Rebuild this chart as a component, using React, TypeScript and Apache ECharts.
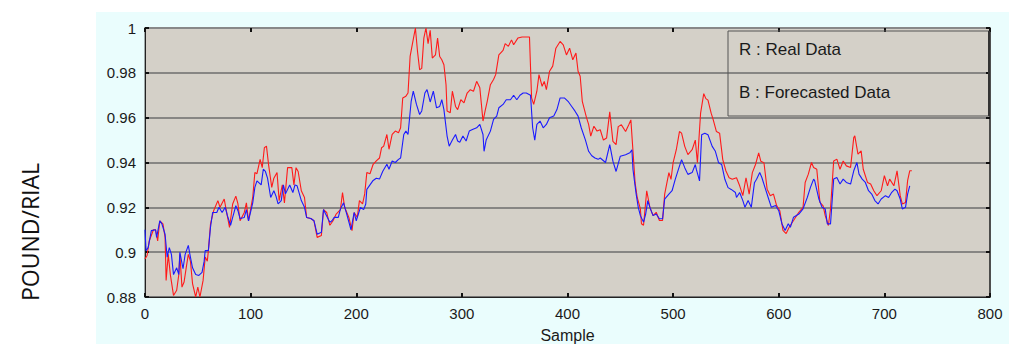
import React, { useEffect, useRef } from "react";
import * as echarts from "echarts";

const xTicks = [0, 100, 200, 300, 400, 500, 600, 700, 800];
const yTicks = [0.88, 0.9, 0.92, 0.94, 0.96, 0.98, 1];

const realX = [0,2,4,8,10,12,14,17,19,20,22,24,27,30,32,33,35,37,39,41,43,45,48,50,52,55,57,59,60,62,65,69,71,75,77,80,83,86,88,90,94,96,98,102,104,106,109,111,113,115,117,120,122,125,127,130,132,135,139,141,143,145,148,151,153,157,160,163,167,169,172,175,178,181,
185,187,189,193,196,198,201,203,206,208,210,213,216,219,222,224,226,229,231,234,237,240,242,244,247,249,251,253,256,258,260,262,264,266,268,270,272,275,277,279,281,283,285,286,289,291,294,296,299,302,305,308,311,314,317,320,322,324,327,330,332,335,339,341,344,347,349,353,357,360,364,366,368,371,373,376,378,380,383,386,389,393,396,399,402,405,408,410,412,414,418,420,422,425,428,
431,434,437,440,443,446,448,451,455,458,460,462,464,466,469,470,472,475,478,481,484,487,490,492,496,498,500,503,506,508,511,514,518,521,523,526,529,531,533,536,538,541,544,547,550,553,556,560,563,566,569,572,575,578,581,583,586,589,592,595,598,601,604,607,610,
614,619,623,625,628,631,633,636,639,642,644,647,649,652,655,658,661,664,668,671,672,675,678,680,684,687,690,693,697,700,703,705,709,712,715,717,720,722,724,726];
const realY = [0.897,0.8985,0.905,0.91,0.91,0.905,0.914,0.9126,0.9066,0.8874,0.899,0.89,0.8807,0.883,0.89,0.899,0.8844,0.8867,0.893,0.899,0.896,0.886,0.88,0.8844,0.88,0.8874,0.8978,0.896,0.9007,0.9126,0.9185,0.923,0.92,0.9237,0.9185,0.911,0.9215,0.925,0.9215,0.914,0.9177,0.922,0.914,0.9244,0.9355,0.935,0.9414,0.9377,0.9466,0.9473,0.939,0.9289,0.933,0.9355,0.923,0.93,0.922,0.9377,0.9377,0.93,0.9377,0.936,0.9274,0.9244,0.9155,0.915,0.914,0.9066,0.9074,0.919,0.9177,0.912,0.914,0.917,
0.919,0.9266,0.92,0.9155,0.9096,0.9177,0.9155,0.923,0.9215,0.926,0.9355,0.935,0.9392,0.9407,0.942,0.9466,0.9473,0.9525,0.9459,0.9525,0.954,0.9533,0.9555,0.9688,0.9696,0.971,0.9873,0.9925,1.0,0.9895,0.9814,0.982,0.9955,1.0,0.993,0.999,0.9866,0.988,0.9955,0.9873,0.9858,0.9836,0.9747,0.963,0.9622,0.9718,0.965,0.9636,0.968,0.9666,0.971,0.9725,0.9718,0.9762,0.9733,0.9585,0.963,0.9673,0.9747,0.977,0.9792,0.988,0.99,0.993,0.9918,0.9947,0.9925,0.9955,0.996,0.996,0.996,0.9688,0.9659,0.9718,0.9792,0.974,0.9762,0.9725,0.9807,0.983,0.991,0.994,0.9925,0.988,0.991,0.9858,0.9888,0.9807,0.9785,0.9673,0.96,0.957,0.9518,0.9562,0.954,
0.9546,0.95,0.9509,0.9626,0.9494,0.948,0.956,0.9568,0.9538,0.9568,0.959,0.945,0.931,0.9244,0.9193,0.9127,0.912,0.9274,0.92,0.9163,0.9178,0.9141,0.9141,0.9259,0.9355,0.9325,0.9399,0.9457,0.9538,0.9531,0.9472,0.9435,0.9457,0.95,0.9399,0.962,0.9707,0.9685,0.9678,0.962,0.959,0.9538,0.9531,0.9413,0.9362,0.9332,0.9325,0.9332,0.9296,0.9252,0.9332,0.9259,0.9355,0.9391,0.9443,0.9406,0.9399,0.9281,0.9252,0.9259,0.9208,0.9185,0.9097,0.9083,0.9112,
0.9141,0.9178,0.92,0.9311,0.9348,0.94,0.9378,0.937,0.9222,0.9207,0.9163,0.9119,0.9193,0.9407,0.9415,0.937,0.9407,0.9385,0.9378,0.9511,0.9519,0.9437,0.9452,0.937,0.9311,0.9304,0.9274,0.9252,0.9274,0.9341,0.9296,0.9326,0.9296,0.9363,0.9252,0.9215,0.9222,0.9319,0.9363,0.9363];

const forecastX = [0,1,3,6,10,11,14,16,19,21,23,25,27,30,32,33,36,38,41,43,45,48,51,54,56,57,60,62,64,68,70,73,76,78,81,83,86,88,90,94,96,98,102,104,106,110,112,114,116,119,122,124,126,129,131,133,137,140,142,144,148,151,153,157,160,163,167,169,171,175,177,179,183,
185,188,191,195,198,200,204,207,209,210,213,216,219,222,225,229,231,234,237,240,242,245,247,249,252,254,257,260,262,265,267,270,273,276,279,281,283,286,288,291,294,296,298,301,304,307,310,314,317,320,321,323,327,330,333,335,339,342,346,349,352,355,358,361,365,367,369,371,374,377,380,383,387,390,393,397,401,404,407,410,413,417,420,423,426,429,
431,436,440,443,446,450,455,459,461,462,465,467,469,472,474,476,478,481,484,487,490,492,496,499,502,505,508,511,514,518,521,522,525,527,530,533,537,540,543,546,549,552,555,559,560,563,566,568,571,574,577,579,582,584,587,590,593,597,600,603,606,609,
611,614,619,623,627,630,633,634,638,641,644,646,649,652,655,658,661,664,668,671,674,676,679,682,685,688,691,694,697,701,704,707,710,712,715,717,720,722,724];
const forecastY = [0.91,0.9007,0.902,0.9096,0.91,0.9066,0.914,0.9126,0.908,0.8978,0.902,0.899,0.89,0.893,0.89,0.9,0.8926,0.899,0.903,0.8978,0.893,0.89,0.8896,0.891,0.896,0.9007,0.9007,0.911,0.9177,0.9177,0.92,0.9177,0.92,0.9163,0.912,0.9155,0.9207,0.9185,0.915,0.9155,0.919,0.914,0.922,0.9289,0.9318,0.93,0.937,0.936,0.933,0.9244,0.9274,0.925,0.9215,0.923,0.93,0.926,0.93,0.9266,0.93,0.9296,0.923,0.92,0.9155,0.915,0.914,0.908,0.9089,0.919,0.917,0.9133,0.914,0.9155,0.9155,
0.9192,0.922,0.917,0.91,0.9177,0.914,0.92,0.919,0.9215,0.928,0.93,0.932,0.933,0.9326,0.936,0.9392,0.937,0.9407,0.94,0.9414,0.942,0.9525,0.954,0.9525,0.9673,0.9718,0.9659,0.9614,0.963,0.971,0.9725,0.967,0.9718,0.9644,0.965,0.968,0.9636,0.9518,0.9473,0.95,0.9525,0.9496,0.949,0.9518,0.9496,0.954,0.9547,0.9555,0.957,0.9525,0.945,0.95,0.954,0.9592,0.9607,0.9644,0.9659,0.968,0.968,0.97,0.968,0.97,0.971,0.971,0.97,0.9555,0.95,0.957,0.9585,0.9555,0.957,0.96,0.9607,0.9636,0.9688,0.9688,0.967,0.965,0.963,0.9607,0.9555,0.95,0.945,0.943,0.942,0.9414,
0.942,0.94,0.948,0.9406,0.936,0.9428,0.9435,0.9443,0.9457,0.9369,0.9259,0.92,0.9163,0.9134,0.917,0.923,0.92,0.9163,0.917,0.9149,0.9149,0.9237,0.9259,0.9274,0.9325,0.9369,0.9413,0.9377,0.9347,0.9355,0.9391,0.9369,0.9318,0.9524,0.9531,0.9524,0.9472,0.945,0.9399,0.9391,0.9325,0.9288,0.928,0.9266,0.9244,0.9266,0.923,0.92,0.923,0.92,0.931,0.9325,0.9355,0.9333,0.9288,0.9244,0.92,0.9208,0.9185,0.9127,0.9097,0.9127,
0.9111,0.9156,0.917,0.9193,0.9244,0.9289,0.9326,0.9319,0.9237,0.92,0.9193,0.9126,0.9126,0.9326,0.9333,0.9304,0.9326,0.9311,0.9304,0.9363,0.94,0.9348,0.9326,0.9311,0.9274,0.9259,0.923,0.9215,0.9237,0.9252,0.9244,0.9267,0.9281,0.9274,0.9237,0.9193,0.92,0.9259,0.9296];

const legendLines = ["R : Real Data", "B : Forecasted Data"];
const yAxisTitle = "POUND/RIAL";
const xAxisTitle = "Sample";

const W = 1009;
const H = 344;
const FONT = "'Liberation Sans', Arial, sans-serif";

export default function App() {
  const ref = useRef<HTMLDivElement>(null);
  useEffect(() => {
    if (!ref.current) return;
    const chart = echarts.init(ref.current, undefined, { renderer: "svg" });
    const real = realX.map((x, i) => [x, realY[i]]);
    const fc = forecastX.map((x, i) => [x, forecastY[i]]);
    const axisLabel = { fontSize: 15, color: "#1a1a1a", fontFamily: FONT };
    chart.setOption({
      animation: false,
      grid: {
        left: 145,
        right: 19,
        top: 28,
        bottom: 47,
        show: true,
        containLabel: false,
        outerBoundsMode: "none",
        backgroundColor: "#d4d0c8",
        borderColor: "#555",
        borderWidth: 1,
      },
      xAxis: [
        {
          type: "value",
          min: 0,
          max: 800,
          interval: 100,
          position: "bottom",
          splitLine: { show: false },
          axisLine: { show: true, onZero: false, lineStyle: { color: "#222", width: 1 } },
          axisTick: { show: true, inside: true, length: 4, lineStyle: { color: "#111", width: 2 } },
          axisLabel: { ...axisLabel, margin: 9, formatter: (v: number) => String(v) },
          name: xAxisTitle,
          nameLocation: "middle",
          nameGap: 30,
          nameTextStyle: { fontSize: 16, color: "#1a1a1a", fontFamily: FONT },
        },
        {
          type: "value",
          min: 0,
          max: 800,
          interval: 100,
          position: "top",
          splitLine: { show: false },
          axisLine: { show: true, onZero: false, lineStyle: { color: "#888", width: 2 } },
          axisTick: { show: true, inside: true, length: 4, lineStyle: { color: "#111", width: 2 } },
          axisLabel: { show: false },
        },
      ],
      yAxis: [
        {
          type: "value",
          min: 0.88,
          max: 1,
          interval: 0.02,
          position: "left",
          axisLine: { show: true, onZero: false, lineStyle: { color: "#222", width: 1 } },
          axisTick: { show: true, inside: true, length: 4, lineStyle: { color: "#111", width: 2 } },
          axisLabel: {
            ...axisLabel,
            margin: 9,
            formatter: (v: number) => String(+v.toFixed(2)),
          },
          splitLine: { show: true, lineStyle: { color: "#6e6e6e", width: 1.5 } },
        },
        {
          type: "value",
          min: 0.88,
          max: 1,
          interval: 0.02,
          position: "right",
          axisLine: { show: true, onZero: false, lineStyle: { color: "#333", width: 1.5 } },
          axisTick: { show: true, inside: true, length: 4, lineStyle: { color: "#111", width: 2 } },
          axisLabel: { show: false },
          splitLine: { show: false },
        },
      ],
      series: [
        {
          type: "line",
          name: "Real",
          data: real,
          showSymbol: false,
          symbol: "none",
          clip: true,
          lineStyle: { color: "#ff1a1a", width: 1.1 },
          z: 3,
        },
        {
          type: "line",
          name: "Forecast",
          data: fc,
          showSymbol: false,
          symbol: "none",
          clip: true,
          lineStyle: { color: "#1a1aff", width: 1.1 },
          z: 4,
        },
      ],
      graphic: [
        {
          type: "rect",
          shape: { x: 728, y: 31, width: 261, height: 85 },
          style: { fill: "rgba(0,0,0,0)", stroke: "#555", lineWidth: 1 },
          z: 10,
        },
        {
          type: "line",
          shape: { x1: 989, y1: 31, x2: 989, y2: 116 },
          style: { stroke: "#333", lineWidth: 2 },
          z: 10,
        },
        {
          type: "text",
          x: 739,
          y: 49,
          style: {
            text: legendLines[0],
            font: `17px ${FONT}`,
            fill: "#1a1a1a",
            textVerticalAlign: "middle",
          },
          z: 11,
        },
        {
          type: "text",
          x: 739,
          y: 92,
          style: {
            text: legendLines[1],
            font: `17px ${FONT}`,
            fill: "#1a1a1a",
            textVerticalAlign: "middle",
          },
          z: 11,
        },
        {
          type: "text",
          x: 30,
          y: 232,
          rotation: Math.PI / 2,
          style: {
            text: yAxisTitle,
            font: `23px 'Open Sans', ${FONT}`,
            fill: "#111",
            textAlign: "center",
            textVerticalAlign: "middle",
          },
          z: 11,
        },
      ],
    });
    return () => chart.dispose();
  }, []);

  return (
    <div style={{ position: "absolute", left: 0, top: 0, width: W, height: H, background: "#fff", overflow: "hidden" }}>
      <div style={{ position: "absolute", left: 96, top: 12, right: 0, bottom: 0, background: "#eafdfd" }} />
      <div ref={ref} style={{ position: "absolute", left: 0, top: 0, width: W, height: H }} />
    </div>
  );
}
